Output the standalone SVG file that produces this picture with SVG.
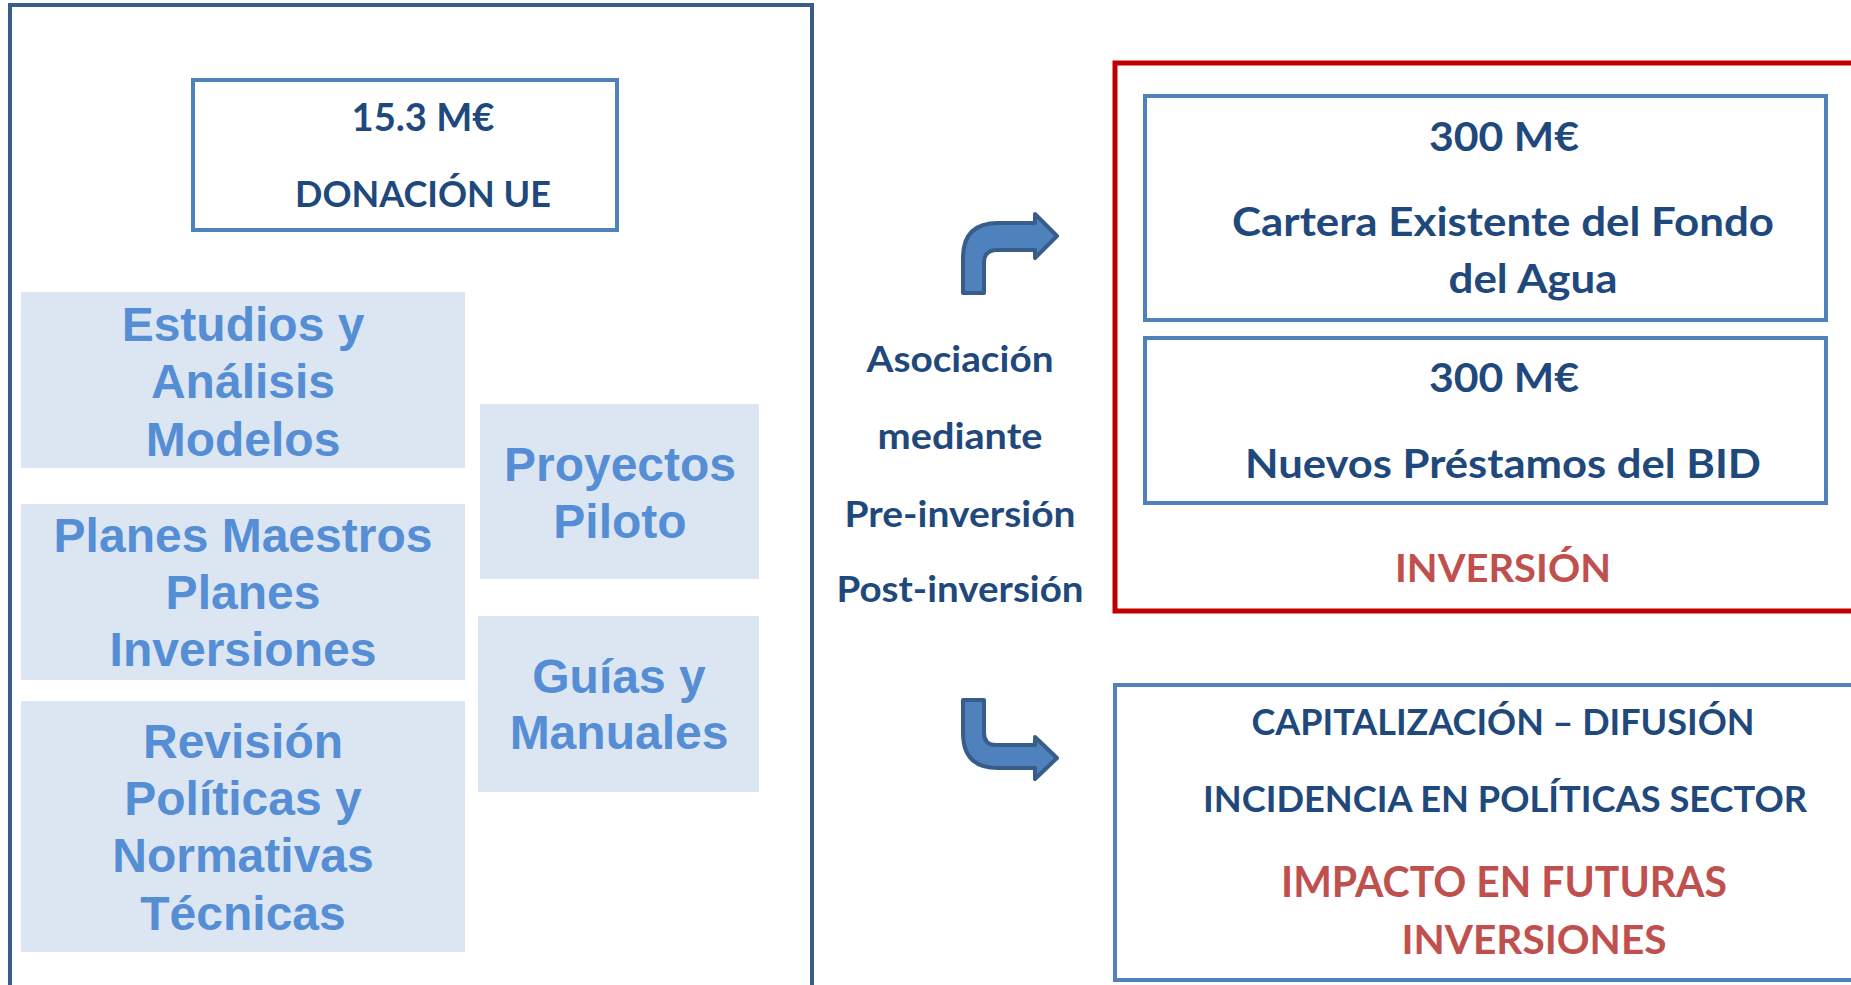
<svg xmlns="http://www.w3.org/2000/svg" width="1851" height="985" viewBox="0 0 1851 985">
<style>
.frame{fill:#fff;stroke:#385D8A;stroke-width:4}
.bx{fill:#fff;stroke:#4F81BD;stroke-width:4}
.red{fill:#fff;stroke:#C00000;stroke-width:5}
.lb{fill:#DCE6F2}
.lt{font-family:"Liberation Sans",Arial,sans-serif;font-weight:bold;font-size:48px;fill:#558ED5;text-anchor:middle}
.dk{font-family:Lato,"Open Sans",sans-serif;font-weight:bold;fill:#1F497D;text-anchor:middle}
.rd{font-family:Lato,"Open Sans",sans-serif;font-weight:bold;fill:#C0504D;text-anchor:middle}
.arr{fill:#4F81BD;stroke:#385D8A;stroke-width:4;stroke-linejoin:round}
</style>
<rect width="1851" height="985" fill="#fff"/>
<g id="left-panel">
<rect class="frame" x="10" y="5" width="802" height="990"/>
</g>
<g id="donacion">
<rect class="bx" x="193" y="80" width="424" height="150"/>
<text class="dk" x="423" y="131" font-size="38" textLength="143" lengthAdjust="spacingAndGlyphs">15.3 M€</text>
<text class="dk" x="423" y="207" font-size="36" textLength="256" lengthAdjust="spacingAndGlyphs">DONACIÓN UE</text>
</g>
<g id="estudios">
<rect class="lb" x="21" y="292" width="444" height="176"/>
<text class="lt" x="243" y="341">Estudios y</text>
<text class="lt" x="243" y="398">Análisis</text>
<text class="lt" x="243" y="456">Modelos</text>
</g>
<g id="planes">
<rect class="lb" x="21" y="504" width="444" height="176"/>
<text class="lt" x="243" y="552">Planes Maestros</text>
<text class="lt" x="243" y="609">Planes</text>
<text class="lt" x="243" y="666">Inversiones</text>
</g>
<g id="revision">
<rect class="lb" x="21" y="701" width="444" height="251"/>
<text class="lt" x="243" y="758">Revisión</text>
<text class="lt" x="243" y="815">Políticas y</text>
<text class="lt" x="243" y="872">Normativas</text>
<text class="lt" x="243" y="930">Técnicas</text>
</g>
<g id="proyectos">
<rect class="lb" x="480" y="404" width="279" height="175"/>
<text class="lt" x="620" y="481">Proyectos</text>
<text class="lt" x="620" y="538">Piloto</text>
</g>
<g id="guias">
<rect class="lb" x="478" y="616" width="281" height="176"/>
<text class="lt" x="619" y="693">Guías y</text>
<text class="lt" x="619" y="749">Manuales</text>
</g>
<g id="asociacion">
<text class="dk" x="960" y="372" font-size="36" textLength="187" lengthAdjust="spacingAndGlyphs">Asociación</text>
<text class="dk" x="960" y="449" font-size="36" textLength="165" lengthAdjust="spacingAndGlyphs">mediante</text>
<text class="dk" x="960" y="527" font-size="36" textLength="231" lengthAdjust="spacingAndGlyphs">Pre-inversión</text>
<text class="dk" x="960" y="602" font-size="36" textLength="247" lengthAdjust="spacingAndGlyphs">Post-inversión</text>
</g>
<g id="inversion">
<rect class="red" x="1115" y="63" width="760" height="548"/>
<text class="rd" x="1503" y="582" font-size="38" textLength="216" lengthAdjust="spacingAndGlyphs">INVERSIÓN</text>
</g>
<g id="cartera">
<rect class="bx" x="1145" y="96" width="681" height="224"/>
<text class="dk" x="1504" y="151" font-size="40" textLength="150" lengthAdjust="spacingAndGlyphs">300 M€</text>
<text class="dk" x="1503" y="236" font-size="40" textLength="542" lengthAdjust="spacingAndGlyphs">Cartera Existente del Fondo</text>
<text class="dk" x="1533" y="293" font-size="40" textLength="169" lengthAdjust="spacingAndGlyphs">del Agua</text>
</g>
<g id="prestamos">
<rect class="bx" x="1145" y="338" width="681" height="165"/>
<text class="dk" x="1504" y="392" font-size="40" textLength="150" lengthAdjust="spacingAndGlyphs">300 M€</text>
<text class="dk" x="1503" y="478" font-size="40" textLength="516" lengthAdjust="spacingAndGlyphs">Nuevos Préstamos del BID</text>
</g>
<g id="capitalizacion">
<rect class="bx" x="1115" y="685" width="760" height="295"/>
<text class="dk" x="1503" y="735" font-size="37" textLength="503" lengthAdjust="spacingAndGlyphs">CAPITALIZACIÓN – DIFUSIÓN</text>
<text class="dk" x="1505" y="812" font-size="36" textLength="604" lengthAdjust="spacingAndGlyphs">INCIDENCIA EN POLÍTICAS SECTOR</text>
<text class="rd" x="1504" y="897" font-size="42" textLength="446" lengthAdjust="spacingAndGlyphs">IMPACTO EN FUTURAS</text>
<text class="rd" x="1534" y="954" font-size="40" textLength="265" lengthAdjust="spacingAndGlyphs">INVERSIONES</text>
</g>
<g id="connectors">
<path class="arr" d="M963,293 L963,258 Q963,223 998,223 L1035,223 L1035,214 L1057,236 L1035,258 L1035,250 L997,250 Q984,250 984,263 L984,293 Z"/>
<path class="arr" d="M963,700 L984,700 L984,733 Q984,745 996,745 L1035,745 L1035,737 L1057,758 L1035,779 L1035,768 L998,768 Q963,768 963,733 Z"/>
</g>
</svg>
